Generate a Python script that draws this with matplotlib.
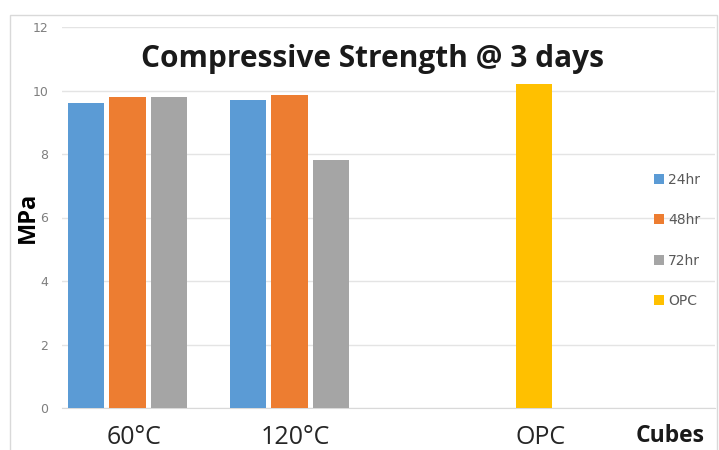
import matplotlib.pyplot as plt
from matplotlib.patches import Rectangle

categories = ['60°C', '120°C', 'OPC']
series = ['24hr', '48hr', '72hr', 'OPC']
vals_24 = [9.6, 9.7, None]
vals_48 = [9.8, 9.85, None]
vals_72 = [9.8, 7.8, None]
vals_opc = [None, None, 10.2]
colors = ['#5B9BD5', '#ED7D31', '#A5A5A5', '#FFC000']

group_step = 3.9
width = 0.88

fig = plt.figure(figsize=(7.19, 4.5), dpi=100)
ax = fig.add_axes([62 / 719, 42 / 450, (715 - 62) / 719, (408 - 27) / 450])

label_pos = []
for gi, cat in enumerate(categories):
    xs = []
    for si, vals in enumerate([vals_24, vals_48, vals_72, vals_opc]):
        x = gi * group_step + si
        if vals[gi] is not None:
            ax.bar(x, vals[gi], width=width, color=colors[si],
                   label=series[si] if (si < 3 and gi == 0) or (si == 3 and gi == 2) else None,
                   zorder=3)
            xs.append(x)
    label_pos.append(sum(xs) / len(xs) + 0.15)

ax.set_xlim(-0.58, 15.16)
ax.set_ylim(0, 12)
ax.set_yticks(range(0, 13, 2))
ax.tick_params(axis='y', length=0, labelsize=9, labelcolor='#7f7f7f', pad=10)
ax.set_xticks(label_pos)
ax.set_xticklabels(categories, fontsize=18, color='#262626', fontfamily='Open Sans')
ax.tick_params(axis='x', length=0, pad=12)
ax.grid(axis='y', color='#e4e4e4', linewidth=1, zorder=0)
for s in ['top', 'right', 'left']:
    ax.spines[s].set_visible(False)
ax.spines['bottom'].set_color('#d9d9d9')

ax.set_ylabel('MPa', fontsize=17, fontweight='bold', fontfamily='Open Sans')
ax.yaxis.set_label_coords(-0.052, 0.5)
ax.yaxis.label.set_va('center')
ax.yaxis.label.set_zorder(6)

ax.text(0.475, 0.915, 'Compressive Strength @ 3 days', transform=ax.transAxes,
        ha='center', va='center', fontsize=21.5, fontweight='bold', fontfamily='Open Sans',
        color='#1a1a1a', zorder=5,
        bbox=dict(facecolor='white', edgecolor='none', pad=2))

fig.text(670 / 719, 1 - 436 / 450, 'Cubes', ha='center', va='center', fontsize=16.5,
         fontweight='bold', fontfamily='Open Sans', color='#1a1a1a')

leg = ax.legend(loc='center left', bbox_to_anchor=(0.888, 0.44), frameon=False,
                fontsize=10, handlelength=0.7, handleheight=0.7, handletextpad=0.3,
                labelspacing=1.9, labelcolor='#595959')

fig.patches.append(Rectangle((10 / 719, -0.01), 707 / 719, 1.01 - 15 / 450,
                             transform=fig.transFigure, fill=False,
                             edgecolor='#d9d9d9', linewidth=1))

fig.savefig('out.png', dpi=100)
